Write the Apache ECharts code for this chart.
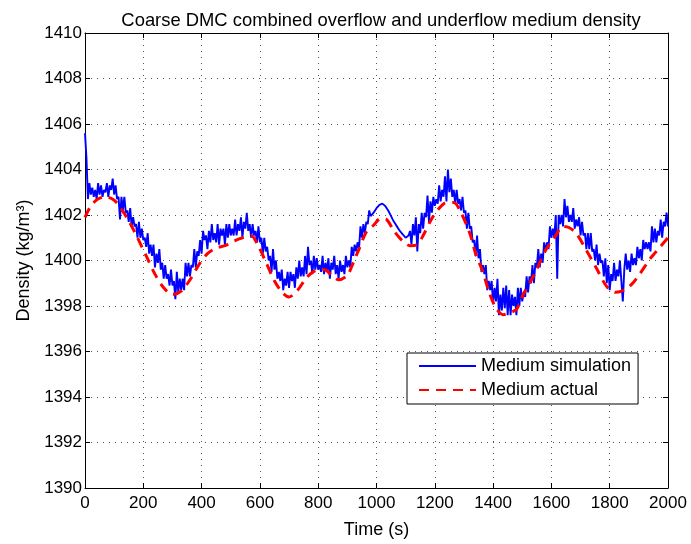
<!DOCTYPE html>
<html>
<head>
<meta charset="utf-8">
<script src="https://cdn.jsdelivr.net/npm/echarts@6/dist/echarts.min.js"></script>
<style>
  html, body { margin: 0; padding: 0; background: #fff; }
  #chart { width: 691px; height: 544px; }
</style>
</head>
<body>
<div id="chart"></div>
<script>
// Simulated medium density, sampled every 5 s from 0 to 2000 s (20 samples per row)
const simStep = 5;
const simDensity = [
  1405.6,
  1404.5, 1402.7, 1403.4, 1402.9, 1403.2, 1402.8, 1403.1, 1402.7, 1403.4, 1402.9, 1403.3, 1402.8, 1403.1, 1403.0, 1403.4, 1402.8, 1403.3, 1403.1, 1403.6, 1402.9,
  1403.3, 1402.7, 1402.8, 1401.8, 1402.8, 1402.2, 1402.8, 1402.1, 1402.2, 1401.7, 1402.3, 1401.5, 1401.9, 1401.5, 1401.6, 1401.0, 1401.7, 1401.0, 1401.4, 1400.9,
  1401.0, 1400.6, 1401.2, 1400.3, 1400.7, 1400.2, 1400.7, 1399.7, 1400.3, 1399.9, 1400.5, 1399.6, 1399.9, 1399.2, 1399.8, 1399.2, 1399.4, 1398.9, 1399.6, 1398.9,
  1399.1, 1398.3, 1399.5, 1398.6, 1399.2, 1398.7, 1399.2, 1398.7, 1399.9, 1399.3, 1399.9, 1399.3, 1399.8, 1399.7, 1400.5, 1399.7, 1400.4, 1400.2, 1400.9, 1400.3,
  1401.3, 1400.9, 1401.1, 1400.5, 1401.3, 1400.8, 1401.6, 1400.9, 1401.2, 1400.8, 1401.6, 1400.7, 1401.4, 1401.1, 1401.4, 1400.7, 1401.6, 1401.0, 1401.6, 1401.1,
  1401.4, 1401.1, 1401.8, 1401.1, 1401.6, 1401.3, 1401.9, 1401.0, 1401.7, 1401.4, 1402.1, 1401.3, 1401.6, 1401.0, 1401.6, 1401.1, 1401.3, 1400.8, 1401.5, 1400.8,
  1401.0, 1400.3, 1401.0, 1400.4, 1400.6, 1400.0, 1400.2, 1399.5, 1400.5, 1399.6, 1400.0, 1399.2, 1399.5, 1399.1, 1399.6, 1398.7, 1399.2, 1398.9, 1399.5, 1398.8,
  1399.5, 1399.1, 1399.4, 1398.8, 1399.7, 1399.2, 1400.0, 1399.3, 1399.7, 1399.3, 1400.2, 1399.4, 1400.6, 1399.8, 1400.0, 1399.4, 1400.2, 1399.6, 1400.1, 1399.6,
  1399.8, 1399.5, 1400.2, 1399.4, 1399.9, 1399.5, 1400.1, 1399.2, 1399.9, 1399.6, 1400.2, 1399.4, 1399.8, 1399.2, 1400.0, 1399.5, 1399.8, 1399.4, 1400.2, 1399.7,
  1400.0, 1399.7, 1400.6, 1400.2, 1400.7, 1400.4, 1400.8, 1400.5, 1401.5, 1401.0, 1401.6, 1401.2, 1401.7, 1401.6, 1402.2, 1401.95, 1402.0, 1402.1, 1402.2, 1402.3,
  1402.38, 1402.45, 1402.48, 1402.5, 1402.47, 1402.4, 1402.3, 1402.2, 1402.08, 1401.95, 1401.82, 1401.7, 1401.6, 1401.5, 1401.4, 1401.3, 1401.22, 1401.15, 1401.08, 1401.0,
  1401.05, 1401.1, 1401.3, 1400.7, 1401.6, 1401.1, 1401.9, 1400.4, 1401.6, 1401.2, 1402.1, 1401.4, 1402.1, 1401.9, 1402.85, 1401.7, 1402.6, 1402.1, 1402.8, 1402.4,
  1402.7, 1402.5, 1403.3, 1402.6, 1403.1, 1402.8, 1403.7, 1402.6, 1404.0, 1403.0, 1403.6, 1402.8, 1403.1, 1402.5, 1403.1, 1402.5, 1402.7, 1402.2, 1402.8, 1402.1,
  1402.2, 1401.4, 1402.1, 1401.4, 1401.5, 1400.8, 1400.9, 1400.2, 1401.1, 1400.1, 1400.5, 1399.5, 1399.8, 1399.4, 1399.8, 1398.7, 1399.1, 1398.7, 1399.1, 1398.1,
  1398.8, 1398.2, 1399.2, 1397.6, 1398.5, 1397.8, 1398.8, 1397.9, 1398.9, 1397.6, 1398.7, 1397.6, 1398.5, 1398.0, 1398.4, 1397.6, 1398.8, 1398.0, 1398.8, 1398.2,
  1398.6, 1398.4, 1399.3, 1398.6, 1399.3, 1399.0, 1399.8, 1399.0, 1399.9, 1399.7, 1400.5, 1399.7, 1400.3, 1399.9, 1400.8, 1400.4, 1400.8, 1400.5, 1401.5, 1401.0,
  1401.4, 1401.0, 1402.0, 1399.2, 1402.0, 1401.6, 1402.0, 1401.5, 1402.7, 1401.9, 1402.4, 1401.7, 1402.0, 1401.7, 1402.3, 1401.4, 1401.8, 1401.5, 1401.9, 1401.1,
  1401.7, 1401.1, 1401.2, 1400.5, 1401.2, 1400.5, 1401.2, 1400.4, 1400.5, 1400.0, 1400.7, 1399.8, 1400.3, 1399.9, 1400.0, 1399.3, 1400.1, 1399.0, 1399.8, 1398.7,
  1399.4, 1399.1, 1399.9, 1399.1, 1399.6, 1399.3, 1400.0, 1399.1, 1398.2, 1399.6, 1400.3, 1399.6, 1400.0, 1399.5, 1400.3, 1399.8, 1400.1, 1399.8, 1400.6, 1400.1,
  1400.5, 1400.0, 1400.9, 1400.5, 1400.8, 1400.5, 1400.8, 1400.4, 1401.5, 1400.8, 1401.4, 1400.8, 1401.3, 1401.1, 1401.8, 1401.0, 1401.7, 1401.5, 1402.1, 1401.5
];

// Measured medium density
const actualTime = [
  0, 20, 44, 70, 100, 120, 150, 180, 210, 240, 270, 300, 330, 360, 390, 420, 450, 480,
  510, 540, 570, 590, 620, 650, 680, 700, 730, 760, 790, 820, 850, 870, 900, 920, 940,
  965, 990, 1015, 1035, 1060, 1090, 1115, 1140, 1160, 1190, 1215, 1240, 1265, 1290,
  1320, 1340, 1365, 1385, 1410, 1435, 1460, 1480, 1505, 1540, 1580, 1610, 1640, 1660,
  1685, 1720, 1755, 1790, 1820, 1850, 1875, 1900, 1940, 1970, 2000
];
const actualDensity = [
  1401.9, 1402.4, 1402.7, 1402.8, 1402.65, 1402.35, 1401.75, 1401.0, 1400.2, 1399.4,
  1398.8, 1398.5, 1398.65, 1399.15, 1399.8, 1400.3, 1400.55, 1400.65,
  1400.85, 1401.0, 1401.1, 1400.75, 1399.95, 1399.1, 1398.55, 1398.4, 1398.7, 1399.25,
  1399.55, 1399.6, 1399.3, 1399.15, 1399.35, 1399.9, 1400.5,
  1401.25, 1401.55, 1401.85, 1401.8, 1401.3, 1400.85, 1400.65, 1400.7, 1401.1, 1401.85,
  1402.3, 1402.55, 1402.55, 1402.1,
  1401.2, 1400.3, 1399.5, 1398.65, 1397.9, 1397.62, 1397.72, 1397.85, 1398.55, 1399.35,
  1400.45, 1401.0, 1401.5, 1401.45,
  1401.2, 1400.45, 1399.65, 1398.85, 1398.6, 1398.7, 1398.95, 1399.35, 1400.1, 1400.55,
  1401.0
];

const xTicks = { min: 0, max: 2000, interval: 200 };
const yTicks = { min: 1390, max: 1410, interval: 2 };

const simData = simDensity.map((v, i) => [i * simStep, v]);
const actualData = actualDensity.map((v, i) => [actualTime[i], v]);

const FONT = 'Liberation Sans, Arial, Helvetica, sans-serif';

const boxAxis = (extra) => Object.assign({
  type: 'value',
  axisLine: { show: true, onZero: false, lineStyle: { color: '#000', width: 1 } },
  axisTick: { show: true, inside: true, length: 5, lineStyle: { color: '#000' } },
  axisLabel: { show: false },
  splitLine: { show: false }
}, extra);

const plainLabel = {
  show: true, fontFamily: FONT, fontSize: 17, color: '#000',
  formatter: (v) => String(v)
};
const gridDots = { show: true, lineStyle: { color: '#555', type: [1, 5], width: 1 } };

const chart = echarts.init(document.getElementById('chart'), null, { renderer: 'canvas' });
chart.setOption({
  animation: false,
  backgroundColor: '#fff',
  title: {
    text: 'Coarse DMC combined overflow and underflow medium density',
    left: 376, top: 7, textAlign: 'center',
    textStyle: { fontFamily: FONT, fontSize: 18.4, fontWeight: 'normal', color: '#000' }
  },
  grid: { left: 85, right: 23, top: 33, bottom: 51 },
  legend: {
    orient: 'vertical',
    left: 407, top: 353,
    padding: [3, 7, 4, 11],
    itemGap: 4,
    itemWidth: 57, itemHeight: 14,
    borderColor: '#000', borderWidth: 1,
    backgroundColor: '#fff',
    itemStyle: { color: 'rgba(0,0,0,0)', borderColor: 'rgba(0,0,0,0)', borderWidth: 0 },
    textStyle: { fontFamily: FONT, fontSize: 18, color: '#000', lineHeight: 20 },
    data: ['Medium simulation', 'Medium actual']
  },
  xAxis: [
    boxAxis({
      position: 'bottom',
      min: xTicks.min, max: xTicks.max, interval: xTicks.interval,
      name: 'Time (s)', nameLocation: 'middle', nameGap: 33,
      nameTextStyle: { fontFamily: FONT, fontSize: 18, color: '#000' },
      axisLabel: Object.assign({ margin: 7 }, plainLabel),
      splitLine: gridDots
    }),
    boxAxis({ position: 'top', min: xTicks.min, max: xTicks.max, interval: xTicks.interval })
  ],
  yAxis: [
    boxAxis({
      position: 'left',
      min: yTicks.min, max: yTicks.max, interval: yTicks.interval,
      name: 'Density (kg/m³)', nameLocation: 'middle', nameGap: 47, nameRotate: 90,
      nameTextStyle: { fontFamily: FONT, fontSize: 18, color: '#000' },
      axisLabel: Object.assign({ margin: 3 }, plainLabel),
      splitLine: gridDots
    }),
    boxAxis({ position: 'right', min: yTicks.min, max: yTicks.max, interval: yTicks.interval })
  ],
  series: [
    {
      name: 'Medium simulation', type: 'line', xAxisIndex: 0, yAxisIndex: 0,
      data: simData, showSymbol: false, symbol: 'none',
      lineStyle: { color: '#0000ff', width: 1.9 },
      itemStyle: { color: '#0000ff' }
    },
    {
      name: 'Medium actual', type: 'line', xAxisIndex: 0, yAxisIndex: 0,
      data: actualData, showSymbol: false, symbol: 'none', smooth: 0.3,
      lineStyle: { color: '#ff0000', width: 3, type: [10, 7] },
      itemStyle: { color: '#ff0000' }
    }
  ]
});
</script>
</body>
</html>
